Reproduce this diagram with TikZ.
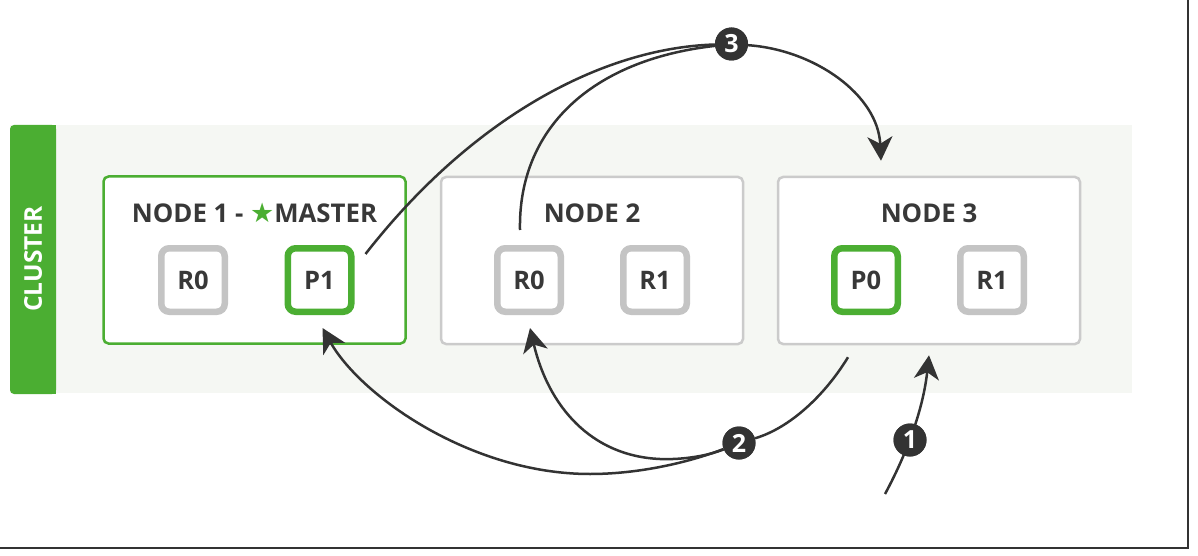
\documentclass[tikz,border=0pt]{standalone}
\usepackage{fontspec}
\setmainfont{Open Sans}
\newfontfamily\symfont{DejaVu Sans}
\usetikzlibrary{arrows.meta}
\definecolor{esgreen}{HTML}{4BAE32}
\definecolor{bggrey}{HTML}{F5F7F3}
\definecolor{shardgrey}{HTML}{C4C4C4}
\definecolor{boxgrey}{HTML}{CBCBCB}
\definecolor{ink}{HTML}{333333}
\definecolor{textdark}{HTML}{383838}
\begin{document}
\begin{tikzpicture}[x=1pt,y=-1pt,
  nodebox/.style={draw=boxgrey, line width=2.5pt, rounded corners=5pt, fill=white,
    minimum width=302pt, minimum height=167pt, inner sep=0pt},
  shard/.style={draw=shardgrey, line width=6.5pt, rounded corners=8pt, fill=white,
    minimum size=63.5pt, inner sep=0pt, text=textdark,
    font=\fontsize{25.5}{25.5}\selectfont\bfseries},
  primary/.style={shard, draw=esgreen},
  title/.style={anchor=base, text=textdark, inner sep=0pt,
    font=\fontsize{25.8}{25.8}\selectfont\bfseries},
  numcirc/.style={circle, fill=ink, minimum size=33pt, inner sep=0pt, text=white,
    font=\fontsize{25}{25}\selectfont\bfseries},
  arr/.style={draw=ink, line width=2.5pt, -{Stealth[length=24pt,width=25pt,inset=7pt]}},
  conn/.style={draw=ink, line width=2.5pt}
]
\useasboundingbox (0,0) rectangle (1198,556);
% frame edges
\draw[ink, line width=2pt] (1188,0) -- (1188,548) -- (0,548);
% cluster background
\fill[bggrey] (10,125) rectangle (1132,393);
\fill[esgreen, rounded corners=4pt] (10,125) rectangle (56,394);
\fill[esgreen] (30,125) rectangle (56,394);
\node[rotate=90, text=white, font=\fontsize{24.5}{24.5}\selectfont\bfseries] (cl) at (33,259) {CLUSTER};

% nodes
\node[nodebox, draw=esgreen] (n1) at (254.5,260) {};
\node[nodebox] (n2) at (592,260.5) {};
\node[nodebox] (n3) at (929,260.5) {};

\node[title] (t1) at (254.5,222) {NODE 1 - {\symfont\fontsize{27}{27}\selectfont\color{esgreen}★}MASTER};
\node[title] (t2) at (592,222) {NODE 2};
\node[title] (t3) at (929,222) {NODE 3};

% shards
\node[shard]   (r0a) at (193,280)   {R0};
\node[primary] (p1)  at (319.5,280) {P1};
\node[shard]   (r0b) at (529,280)   {R0};
\node[shard]   (r1b) at (655,280)   {R1};
\node[primary] (p0)  at (866,280)   {P0};
\node[shard]   (r1c) at (992,280)   {R1};

% numbered markers
\node[numcirc] (c1) at (910,440) {1};
\node[numcirc] (c2) at (739,443) {2};
\node[numcirc] (c3) at (731.5,44) {3};

% free ends
\coordinate (a1s) at (885,494);
\coordinate (a1e) at ([shift={(0,10)}]n3.south);
\coordinate (a2s) at ([shift={(-81,12)}]n3.south);
\coordinate (p1in) at ([shift={(3,13)}]p1.south);
\coordinate (r0in) at ([shift={(1,13)}]r0b.south);
\coordinate (p1out) at ([shift={(11,-26)}]p1.east);
\coordinate (r0out) at ([shift={(-9,-15)}]r0b.north);
\coordinate (n3in) at ([shift={(-48,-15)}]n3.north);

% step 1
\draw[arr] (a1s) .. controls (898,470) and (922,420) .. (a1e);
% step 2
\draw[conn] (a2s) .. controls (825,395) and (790,428) .. (c2);
\draw[arr] (c2) .. controls (690,462) and (640,474) .. (590,474)
             .. controls (470,474) and (360,395) .. (p1in);
\draw[arr] (c2) .. controls (710,455) and (685,460) .. (660,459)
             .. controls (590,456) and (548,405) .. (r0in);
% step 3
\draw[conn] (p1out) .. controls (470,120) and (600,48) .. (c3);
\draw[conn] (r0out) .. controls (518,130) and (590,60) .. (c3);
\draw[arr] (c3) .. controls (815,50) and (878,95) .. (n3in);

% markers on top of the lines
\node[numcirc] at (c1) {1};
\node[numcirc] at (c2) {2};
\node[numcirc] at (c3) {3};
\end{tikzpicture}
\end{document}
